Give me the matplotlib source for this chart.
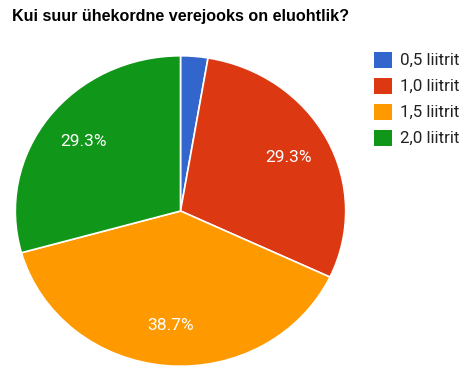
import matplotlib
matplotlib.use('Agg')
import matplotlib.pyplot as plt
from matplotlib.patches import Rectangle

# survey answers (75 responses)
categories = ['0,5 liitrit', '1,0 liitrit', '1,5 liitrit', '2,0 liitrit']
counts = [2, 22, 29, 22]
colors = ['#3366cc', '#dc3912', '#ff9900', '#109618']
title = 'Kui suur ühekordne verejooks on eluohtlik?'

W, H = 464, 367
fig = plt.figure(figsize=(W / 100, H / 100), dpi=100)
fig.patch.set_facecolor('white')


def px(x, y):
    """pixel coords (top-left origin) -> figure fraction"""
    return x / W, 1 - y / H


# pie area: centre (180.5, 211), rx 166, ry 156 (picture is a bit stretched)
cx, cy, rx, ry = 180.5, 211, 166, 156
ax = fig.add_axes([(cx - rx) / W, (H - cy - ry) / H, 2 * rx / W, 2 * ry / H])


def pct_label(p):
    return f'{p:.1f}%' if p > 5 else ''


wedges, texts, autotexts = ax.pie(
    counts, colors=colors, startangle=90, counterclock=False,
    radius=1, autopct=pct_label, pctdistance=0.74,
    wedgeprops=dict(edgecolor='white', linewidth=1.2),
    textprops=dict(color='white', fontsize=12.5, family='Roboto'))
ax.set_xlim(-1.005, 1.005)
ax.set_ylim(-1.005, 1.005)
ax.set_aspect('auto')
ax.axis('off')

fig.text(*px(12, 17), title, fontsize=11.6, fontweight='bold',
         family='Liberation Sans', ha='left', va='center', color='black')

# legend
for i, (lab, col) in enumerate(zip(categories, colors)):
    yc = 60 + i * 26
    x0, y0 = px(374, yc + 8)
    fig.patches.append(Rectangle((x0, y0), 18 / W, 16 / H, transform=fig.transFigure,
                                 facecolor=col, edgecolor='none'))
    fig.text(*px(400, yc), lab, fontsize=12.2, family='Roboto',
             ha='left', va='center', color='#222222')

fig.savefig('out.png', dpi=100, facecolor='white')
